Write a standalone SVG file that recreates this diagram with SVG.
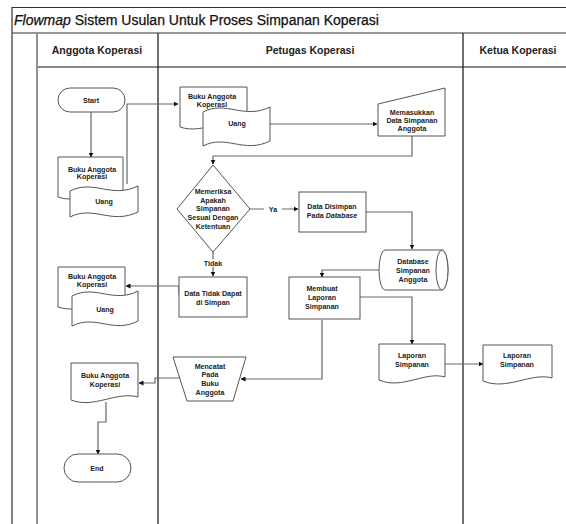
<svg xmlns="http://www.w3.org/2000/svg" width="566" height="524" viewBox="0 0 566 524">
<defs>
<marker id="arr" viewBox="0 0 10 10" refX="9" refY="5" markerWidth="5" markerHeight="5" orient="auto" markerUnits="userSpaceOnUse">
<path d="M0,0 L10,5 L0,10 Z" fill="#111"/>
</marker>
<style>
.frame{stroke:#333;stroke-width:1.2;fill:none}
.lane{stroke:#222;stroke-width:1.3;fill:none}
.gray{stroke:#888;stroke-width:1.8;fill:none}
.shape{fill:#fff;stroke:#555;stroke-width:1}
.conn{fill:none;stroke:#666;stroke-width:1.2;marker-end:url(#arr)}
.t{font-family:"Liberation Sans",Arial,sans-serif;font-size:7.1px;font-weight:bold;fill:#222;text-anchor:middle}
.h{font-family:"Liberation Sans",Arial,sans-serif;font-size:10.5px;font-weight:bold;fill:#222;text-anchor:middle}
.title{font-family:"Liberation Sans",Arial,sans-serif;font-size:14px;fill:#111;stroke:#111;stroke-width:0.25}
.lbl{font-family:"Liberation Sans",Arial,sans-serif;font-size:7.1px;font-weight:bold;fill:#222;text-anchor:middle}
</style>
</defs>
<rect width="566" height="524" fill="#fff"/>

<g id="frame">
<path class="frame" d="M12,524 V7.5 H566"/>
<path class="frame" d="M12,33 H566"/>
<path class="gray" d="M37,33 V524"/>
<path class="gray" d="M37,67 H566"/>
<path class="lane" d="M158,33 V524"/>
<path class="lane" d="M463,33 V524"/>
<text class="title" x="14" y="25"><tspan font-style="italic">Flowmap</tspan> Sistem Usulan Untuk Proses Simpanan Koperasi</text>
<text class="h" x="97" y="54">Anggota Koperasi</text>
<text class="h" x="310" y="54">Petugas Koperasi</text>
<text class="h" x="518" y="54">Ketua Koperasi</text>
</g>

<g id="connectors">
<path class="conn" d="M91,112 V157"/>
<path class="conn" d="M127,184 V104 H178"/>
<path class="conn" d="M270,124 H377"/>
<path class="conn" d="M412,136 V156 H213 V164"/>
<path class="conn" d="M250,209 H298"/>
<path class="conn" d="M366,212 H412 V249"/>
<path class="conn" d="M379,270 H322 V277"/>
<path class="conn" d="M360,297 H412 V344"/>
<path class="conn" d="M445,364 H483"/>
<path class="conn" d="M322,320 V379 H241"/>
<path class="conn" d="M213,252 V276"/>
<path class="conn" d="M179,295 V286 H126"/>
<path class="conn" d="M180,378 H155 V383 H139"/>
<path class="conn" d="M106,402 V422 H98 V454"/>
<rect x="264" y="205" width="18" height="8" fill="#fff"/>
<text class="lbl" x="273" y="211.5">Ya</text>
<rect x="201" y="259" width="24" height="8" fill="#fff"/>
<text class="lbl" x="213" y="265.5">Tidak</text>
</g>

<g id="start">
<rect class="shape" x="58" y="88" width="67" height="24" rx="12"/>
<text class="t" x="91" y="102.5">Start</text>
</g>

<g id="docs-anggota-1">
<path class="shape" d="M58,157 H123 V192 C101,186 80,205 58,197 Z"/>
<text class="t" x="92" y="172">Buku Anggota</text>
<text class="t" x="92" y="179">Koperasi</text>
<path class="shape" d="M70,191 C94,179 111,199 138,186 V212 C111,225 94,205 70,217 Z"/>
<text class="t" x="104" y="203.5">Uang</text>
</g>

<g id="docs-petugas">
<path class="shape" d="M180,87 H247 V122 C225,116 203,135 180,127 Z"/>
<text class="t" x="212" y="99">Buku Anggota</text>
<text class="t" x="212" y="107">Koperasi</text>
<path class="shape" d="M203,112 C226,100 244,120 270,107 V141 C244,154 226,134 203,146 Z"/>
<text class="t" x="237" y="126">Uang</text>
</g>

<g id="memasukkan">
<path class="shape" d="M378,104 L445,88 V136 H378 Z"/>
<text class="t" x="412" y="114.5">Memasukkan</text>
<text class="t" x="412" y="122.5">Data Simpanan</text>
<text class="t" x="412" y="131">Anggota</text>
</g>

<g id="memeriksa">
<path class="shape" d="M213,165 L250,209 L213,252 L177,209 Z"/>
<text class="t" x="213" y="194">Memeriksa</text>
<text class="t" x="213" y="202.5">Apakah</text>
<text class="t" x="213" y="211">Simpanan</text>
<text class="t" x="213" y="220">Sesuai Dengan</text>
<text class="t" x="213" y="228.5">Ketentuan</text>
</g>

<g id="disimpan">
<rect class="shape" x="299" y="192" width="67" height="40"/>
<text class="t" x="332" y="208.5">Data Disimpan</text>
<text class="t" x="332" y="217.5">Pada <tspan font-style="italic">Database</tspan></text>
</g>

<g id="database">
<path class="shape" d="M385,250 H442 A6,20 0 0 1 442,290 H385 A6,20 0 0 1 385,250 Z"/>
<ellipse class="shape" cx="442" cy="270" rx="6" ry="20"/>
<text class="t" x="413" y="264">Database</text>
<text class="t" x="413" y="273">Simpanan</text>
<text class="t" x="413" y="281.5">Anggota</text>
</g>

<g id="membuat">
<rect class="shape" x="289" y="277" width="71" height="42"/>
<text class="t" x="322" y="290.5">Membuat</text>
<text class="t" x="322" y="299.5">Laporan</text>
<text class="t" x="322" y="309">Simpanan</text>
</g>

<g id="laporan-petugas">
<path class="shape" d="M379,344 H445 V377 C425,371 402,390 379,380 Z"/>
<text class="t" x="412" y="357.5">Laporan</text>
<text class="t" x="412" y="366.5">Simpanan</text>
</g>

<g id="laporan-ketua">
<path class="shape" d="M483,345 H552 V378 C531,372 507,391 483,381 Z"/>
<text class="t" x="517" y="357.5">Laporan</text>
<text class="t" x="517" y="366.5">Simpanan</text>
</g>

<g id="tidak-dapat">
<rect class="shape" x="179" y="277" width="68" height="40"/>
<text class="t" x="213" y="295.5">Data Tidak Dapat</text>
<text class="t" x="213" y="304.5">di Simpan</text>
</g>

<g id="docs-anggota-2">
<path class="shape" d="M58,267 H125 V302 C103,296 81,315 58,307 Z"/>
<text class="t" x="92" y="279">Buku Anggota</text>
<text class="t" x="92" y="287">Koperasi</text>
<path class="shape" d="M72,296 C96,284 113,304 138,291 V321 C113,334 96,314 72,326 Z"/>
<text class="t" x="105" y="311.5">Uang</text>
</g>

<g id="mencatat">
<path class="shape" d="M173,357 H246 L233,401 H187 Z"/>
<text class="t" x="210" y="368.5">Mencatat</text>
<text class="t" x="210" y="377">Pada</text>
<text class="t" x="210" y="386">Buku</text>
<text class="t" x="210" y="395">Anggota</text>
</g>

<g id="doc-anggota-3">
<path class="shape" d="M71,363 H138 V397 C116,391 94,409 71,400 Z"/>
<text class="t" x="105" y="377.5">Buku Anggota</text>
<text class="t" x="105" y="386.5">Koperasi</text>
</g>

<g id="end">
<rect class="shape" x="64" y="454" width="67" height="28" rx="14"/>
<text class="t" x="97" y="470.5">End</text>
</g>
</svg>
